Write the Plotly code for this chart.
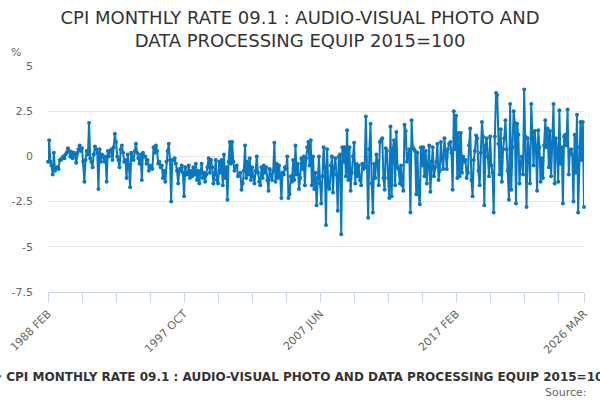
"""CPI monthly rate 09.1 line chart (audio-visual, photo and data processing equipment)."""

import plotly.graph_objects as go

MONTHS = ["JAN", "FEB", "MAR", "APR", "MAY", "JUN",
          "JUL", "AUG", "SEP", "OCT", "NOV", "DEC"]

# Monthly rate (%) by year. 1988 starts in FEB, 2026 ends in MAR.
rates_by_year = {
    1988: [-0.3, 0.9, -0.3, -0.5, -1.0, 0.2, -0.8, -0.6, -0.6, -0.7, -0.2],
    1989: [-0.2, -0.1, 0.0, -0.1, 0.1, 0.2, 0.45, 0.3, 0.0, 0.25, -0.1, 0.2],
    1990: [0.1, -0.35, 0.2, 0.4, 0.6, 0.3, 0.45, -0.3, -1.4, -0.2, 0.3, 0.1],
    1991: [1.85, -0.1, -0.3, -0.6, 0.1, 0.55, 0.4, 0.2, -1.8, 0.4, -0.3, 0.1],
    1992: [0.0, -0.3, 0.0, -1.4, 0.3, 0.0, 0.3, 0.4, -0.2, 0.5, 1.25, 0.8],
    1993: [0.0, -0.2, -0.6, 0.4, 0.6, 0.2, -0.3, -0.2, -1.2, 0.1, -0.5, -1.7],
    1994: [0.2, 0.0, -0.2, 0.3, 0.7, 0.2, -0.1, -0.4, 0.1, -1.3, 0.2, 0.0],
    1995: [0.0, -0.4, -0.2, -0.8, -0.5, -0.6, -0.7, 0.5, 0.2, 0.6, 0.3, -0.4],
    1996: [-0.3, -0.6, -0.5, -1.2, -0.8, -1.4, -0.3, 0.3, 0.7, -0.2, -2.5, -0.2],
    1997: [-0.2, -0.1, -0.4, -0.8, -1.5, -0.7, -0.8, -0.5, -0.9, -2.2, -0.6, -1.0],
    1998: [-1.0, -0.5, -1.2, -0.8, -1.1, -0.6, -1.0, -0.4, -1.3, -0.8, -1.5, -0.9],
    1999: [-0.4, -1.2, -0.9, -1.4, -1.0, -0.6, -0.1, -0.9, -0.2, -0.6, -1.5, -1.0],
    2000: [-0.2, -1.3, -1.5, -0.3, -0.9, -0.2, -1.6, 0.1, -1.2, -0.6, -2.4, -0.3],
    2001: [0.8, -0.4, 0.8, -0.3, -0.8, -0.6, -0.5, -1.1, -1.0, -0.9, -1.85, -1.5],
    2002: [-0.8, 0.6, -1.2, -0.3, -1.0, -0.1, -1.3, -0.6, -1.1, -1.5, -0.8, 0.0],
    2003: [-0.9, -1.4, -1.6, -0.6, -1.2, -0.5, -0.9, -0.6, -1.3, -1.9, -0.7, -1.0],
    2004: [-1.3, -0.8, 0.75, -1.4, -0.4, -1.2, -0.5, -1.1, -2.3, -0.9, -1.0, -0.6],
    2005: [-0.7, 0.0, -2.3, -2.1, -1.1, -1.4, -0.2, -1.3, 0.6, -1.0, -0.4, -1.8],
    2006: [-1.2, -0.1, -0.7, 0.0, -1.6, -0.1, 0.5, 0.8, -0.5, 0.9, -1.6, 0.0],
    2007: [-1.8, -0.9, -2.7, -1.2, 0.0, -1.5, -2.6, -1.1, 0.5, -0.6, -3.8, 0.4],
    2008: [-1.7, -1.8, -0.5, 0.0, -2.0, -0.6, -0.1, -1.0, -3.0, 0.0, 0.1, -4.3],
    2009: [0.5, -0.3, 0.5, -1.1, 1.45, -1.3, 0.5, -1.9, -0.9, 0.0, 0.75, -1.5],
    2010: [-0.4, -1.1, -0.5, -1.3, -1.6, -0.4, -0.7, -0.6, 2.2, -0.6, -3.4, 0.4],
    2011: [1.8, -1.5, -3.1, -0.4, -1.2, 0.1, -0.3, -1.6, 0.8, 0.9, 1.0, -1.2],
    2012: [-1.85, 0.45, 0.3, -1.2, -2.3, 1.65, -2.2, 0.4, 0.9, -1.6, 1.35, -0.6],
    2013: [-0.7, -1.5, -0.5, -1.6, -1.9, 1.75, 1.4, -0.3, 0.0, 0.4, -3.1, 2.0],
    2014: [0.5, 0.4, 0.3, -2.1, 0.2, -2.1, -2.65, 0.5, -0.5, 0.5, -1.1, 0.3],
    2015: [-1.5, -0.4, 0.6, -1.95, -0.3, 0.5, -1.1, -0.6, -0.3, 0.7, -1.3, -0.8],
    2016: [0.8, -0.2, -0.7, 1.0, 0.2, -0.7, 0.4, 0.7, 0.8, 0.2, -1.85, 2.5],
    2017: [0.4, 2.25, -1.2, 1.3, -1.1, 1.3, -0.9, 0.0, -0.3, -0.2, -1.2, -0.9],
    2018: [0.6, 1.55, -1.3, -2.2, -0.2, 0.3, 1.15, 1.0, -0.8, -1.6, 0.2, 1.9],
    2019: [1.1, -2.7, 0.6, 1.0, 0.0, -1.1, 1.1, -0.5, -0.9, -3.1, 1.1, 3.5],
    2020: [3.4, 0.7, -1.0, 1.5, -1.4, 0.4, 1.0, 2.0, 0.4, -0.8, -2.4, 2.9],
    2021: [-1.85, 0.5, 2.5, 1.85, -2.6, 1.8, 1.2, -1.5, -0.3, 0.0, -1.0, 3.7],
    2022: [1.1, -2.8, 1.0, 0.3, -1.5, 2.9, 1.3, -0.5, 1.4, 0.6, -1.9, 1.45],
    2023: [0.5, -1.4, -0.1, -1.2, 0.6, 2.0, 0.5, 1.55, -0.6, 1.4, -1.1, 0.6],
    2024: [2.9, -1.5, 1.0, 0.4, -1.4, 2.55, -0.4, 0.5, -2.6, 1.1, 1.2, 0.6],
    2025: [2.6, -1.0, 0.3, 0.4, 0.1, -2.5, 1.2, -0.9, 2.3, -3.1, 0.5, 1.9],
    2026: [-0.2, 1.9, -2.8],
}

labelled_months = ["1988 FEB", "1997 OCT", "2007 JUN", "2017 FEB", "2026 MAR"]
y_ticks = [5, 2.5, 0, -2.5, -5, -7.5]

series_name = "CPI MONTHLY RATE 09.1 : AUDIO-VISUAL PHOTO AND DATA PROCESSING EQUIP 2015=100"
title_text = "CPI MONTHLY RATE 09.1 : AUDIO-VISUAL PHOTO AND<br>DATA PROCESSING EQUIP 2015=100"

# Build category labels and values
categories = []
values = []
for year, rates in rates_by_year.items():
    start = 1 if year == 1988 else 0
    for k, v in enumerate(rates):
        categories.append(f"{year} {MONTHS[start + k]}")
        values.append(v)

# Tick marks every 29 months plus the last month, labels every fourth tick
tick_idx = list(range(0, len(categories) - 1, 29)) + [len(categories) - 1]
tick_vals = [categories[i] for i in tick_idx]
tick_text = [c if c in labelled_months else "" for c in tick_vals]

FONT = "DejaVu Sans, Verdana, sans-serif"
BLUE = "#0a78c0"

fig = go.Figure(go.Scatter(
    x=categories,
    y=values,
    mode="lines+markers",
    name=series_name,
    line={"color": BLUE, "width": 2},
    marker={"color": BLUE, "size": 4},
    cliponaxis=False,
))

fig.update_layout(
    width=600,
    height=400,
    title={
        "text": title_text,
        "x": 0.5,
        "xanchor": "center",
        "y": 0.94,
        "yanchor": "top",
        "font": {"family": FONT, "size": 18, "color": "#333333"},
    },
    font={"family": FONT, "size": 11, "color": "#666666"},
    margin={"l": 48, "r": 16, "t": 66, "b": 108, "autoexpand": False},
    plot_bgcolor="white",
    paper_bgcolor="white",
    showlegend=True,
    legend={
        "orientation": "h",
        "x": -0.1525,
        "xanchor": "left",
        "y": -0.309,
        "yanchor": "top",
        "font": {"family": FONT, "size": 12, "color": "#333333", "weight": "bold"},
        "itemwidth": 30,
    },
    xaxis={
        "type": "category",
        "range": [0, len(categories) - 1],
        "tickmode": "array",
        "tickvals": tick_vals,
        "ticktext": tick_text,
        "tickangle": -45,
        "ticks": "outside",
        "ticklen": 10,
        "tickcolor": "#ccd6eb",
        "showline": True,
        "linecolor": "#ccd6eb",
        "showgrid": False,
        "tickfont": {"size": 11, "color": "#666666"},
        "fixedrange": True,
    },
    yaxis={
        "range": [-7.5, 5],
        "tickmode": "array",
        "tickvals": y_ticks,
        "ticktext": [f"{t:g}" for t in y_ticks],
        "gridcolor": "#e6e6e6",
        "zeroline": False,
        "showline": False,
        "ticks": "",
        "ticklabelstandoff": 14,
        "tickfont": {"size": 11, "color": "#666666"},
    },
    annotations=[
        {
            "text": "%",
            "xref": "paper", "yref": "paper",
            "x": -0.072, "y": 1.02,
            "xanchor": "left", "yanchor": "bottom",
            "showarrow": False,
            "font": {"size": 11, "color": "#666666"},
        },
        {
            "text": "Source:",
            "xref": "paper", "yref": "paper",
            "x": 1.01, "y": -0.405,
            "xanchor": "right", "yanchor": "top",
            "showarrow": False,
            "font": {"size": 11, "color": "#666666"},
        },
    ],
)

# Drop the browser's default body margin so the figure sits at the page corner
fig.write_html(
    "out.html",
    config={"displayModeBar": False},
    post_script="document.body.style.margin = '0';",
)
